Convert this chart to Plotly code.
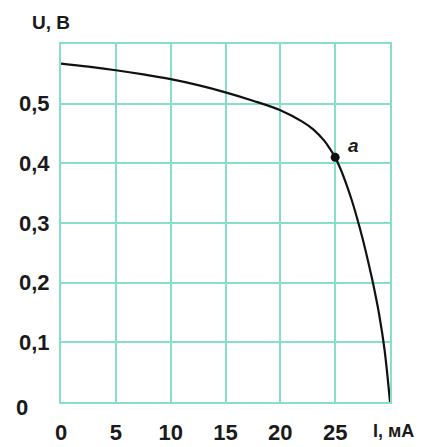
import plotly.graph_objects as go

# Data
current_mA = [0, 2.5, 5, 7.5, 10, 12.5, 15, 17.5, 20, 22, 23, 24, 24.5, 25,
              25.5, 26, 26.5, 27, 27.5, 28, 28.5, 29, 29.5, 30]
voltage_V = [0.567, 0.562, 0.556, 0.549, 0.541, 0.531, 0.519, 0.505, 0.489, 0.470,
             0.457, 0.438, 0.425, 0.41, 0.39, 0.366, 0.339, 0.308, 0.274, 0.236,
             0.195, 0.148, 0.088, 0.0]
point_a = (25, 0.41)

x_ticks = [0, 5, 10, 15, 20, 25]
x_ticktext = ["0", "5", "10", "15", "20", "25"]
y_ticks = [0.1, 0.2, 0.3, 0.4, 0.5]
y_ticktext = ["0,1", "0,2", "0,3", "0,4", "0,5"]

grid_color = "#86e0c9"
font_family = "Liberation Sans"

fig = go.Figure()
fig.add_trace(go.Scatter(x=current_mA, y=voltage_V, mode="lines",
                         line=dict(color="#111", width=2.2, shape="spline", smoothing=1.0),
                         hoverinfo="skip"))
fig.add_trace(go.Scatter(x=[point_a[0]], y=[point_a[1]], mode="markers",
                         marker=dict(color="#111", size=9), hoverinfo="skip"))

# the page body has an 8px margin, so the figure is sized/offset to compensate
fig.update_layout(
    width=420, height=439,
    margin=dict(l=53, r=38, t=36, b=45),
    paper_bgcolor="white", plot_bgcolor="white",
    showlegend=False,
    font=dict(family=font_family, size=22, color="#1a1a1a", weight="bold"),
    xaxis=dict(range=[0, 30], tickvals=x_ticks, ticktext=x_ticktext, automargin=False,
               showgrid=True, gridcolor=grid_color, gridwidth=1.6,
               showline=True, linecolor=grid_color, linewidth=2, mirror=True,
               zeroline=False, ticks="", ticklabelstandoff=10, fixedrange=True,
               tickfont=dict(size=22, weight="bold")),
    yaxis=dict(range=[0, 0.6], tickvals=y_ticks, ticktext=y_ticktext, automargin=False,
               showgrid=True, gridcolor=grid_color, gridwidth=1.6,
               showline=True, linecolor=grid_color, linewidth=2, mirror=True,
               zeroline=False, ticks="", ticklabelstandoff=5, fixedrange=True,
               tickfont=dict(size=22, weight="bold")),
)

fig.add_annotation(text="U, В", xref="paper", yref="paper",
                   x=-0.094, y=1.0, yshift=22, xanchor="left", yanchor="middle",
                   showarrow=False, font=dict(size=19, weight="bold"))
fig.add_annotation(text="I, мА", xref="paper", yref="paper",
                   x=0.942, y=0.0, yshift=-29, xanchor="left", yanchor="middle",
                   showarrow=False, font=dict(size=18, weight="bold"))
fig.add_annotation(text="0", xref="paper", yref="paper",
                   x=-0.119, y=0.0, yshift=-5, xanchor="center", yanchor="middle",
                   showarrow=False, font=dict(size=22, weight="bold"))
fig.add_annotation(text="<i>a</i>", x=point_a[0], y=point_a[1],
                   xshift=18, yshift=12, showarrow=False,
                   font=dict(size=19, weight="bold"))

fig.write_html("out.html")
